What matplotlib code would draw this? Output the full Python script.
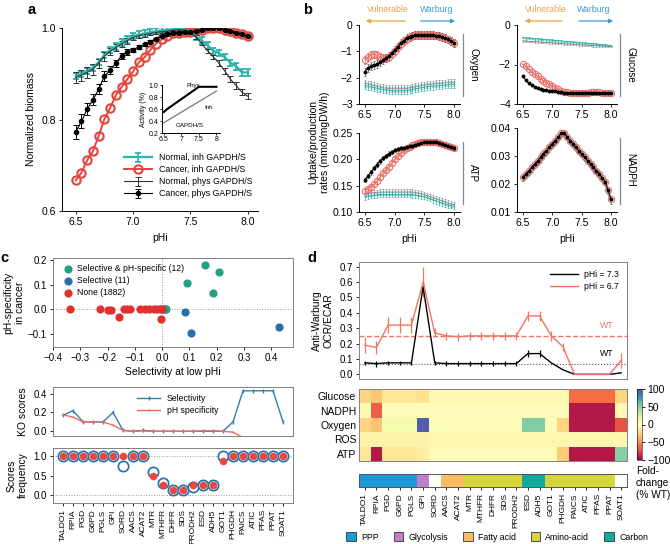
import numpy as np
import matplotlib
matplotlib.use("Agg")
import matplotlib.pyplot as plt
from matplotlib.patches import Patch, FancyArrowPatch
from matplotlib.lines import Line2D
from matplotlib.colors import ListedColormap

plt.rcParams['font.family'] = ['Liberation Sans', 'DejaVu Sans']
plt.rcParams['font.size'] = 7
plt.rcParams['xtick.labelsize'] = 7
plt.rcParams['ytick.labelsize'] = 7
plt.rcParams['axes.labelsize'] = 7.5
plt.rcParams['axes.linewidth'] = 0.7
plt.rcParams['xtick.major.width'] = 0.6
plt.rcParams['ytick.major.width'] = 0.6
plt.rcParams['xtick.major.size'] = 2.5
plt.rcParams['ytick.major.size'] = 2.5
plt.rcParams['xtick.major.pad'] = 2
plt.rcParams['ytick.major.pad'] = 2

######################## DATA ########################
pHi = np.linspace(6.5, 8.0, 31)

# panel a
normal_inh = [0.895, 0.900, 0.906, 0.913, 0.926, 0.941, 0.952, 0.960, 0.968, 0.975, 0.982, 0.986,
              0.988, 0.991, 0.993, 0.995, 0.996, 0.998, 0.999, 0.998, 0.994, 0.980, 0.973, 0.962,
              0.950, 0.945, 0.936, 0.924, 0.916, 0.903, 0.903]
cancer_inh = [0.667, 0.684, 0.711, 0.731, 0.764, 0.801, 0.825, 0.853, 0.871, 0.888, 0.905, 0.925,
              0.936, 0.952, 0.966, 0.975, 0.983, 0.988, 0.990, 0.991, 0.991, 0.993, 0.996, 0.999,
              1.000, 1.000, 0.996, 0.993, 0.990, 0.986, 0.982]
normal_phys = [0.892, 0.897, 0.903, 0.910, 0.923, 0.938, 0.949, 0.957, 0.965, 0.972, 0.979, 0.983,
               0.985, 0.988, 0.990, 0.992, 0.993, 0.995, 0.996, 0.995, 0.991, 0.980, 0.966, 0.950,
               0.937, 0.923, 0.906, 0.888, 0.874, 0.860, 0.851]
cancer_phys = [0.773, 0.796, 0.823, 0.843, 0.866, 0.895, 0.908, 0.923, 0.939, 0.948, 0.952, 0.959,
               0.964, 0.970, 0.977, 0.983, 0.986, 0.988, 0.990, 0.991, 0.991, 0.993, 0.996, 0.999,
               1.000, 1.000, 0.996, 0.993, 0.990, 0.986, 0.982]
normal_phys_err = [0.012, 0.012, 0.012, 0.012, 0.010, 0.010, 0.008, 0.008, 0.006, 0.006, 0.005, 0.004,
                   0.004, 0.003, 0.003, 0.002, 0.002, 0.002, 0.002, 0.002, 0.003, 0.004, 0.004, 0.005,
                   0.005, 0.006, 0.006, 0.006, 0.007, 0.007, 0.007]
cancer_phys_err = [0.016, 0.015, 0.013, 0.012, 0.011, 0.010, 0.009, 0.008, 0.007, 0.006, 0.005, 0.004,
                   0.003, 0.003, 0.002, 0.002, 0.002, 0.002, 0.001, 0.001, 0.001, 0.001, 0.001, 0.001,
                   0.001, 0.001, 0.001, 0.001, 0.001, 0.001, 0.001]
inset_phys_x = [6.5, 6.6, 7.5, 8.0]
inset_phys_y = [0.55, 0.60, 0.97, 0.97]
inset_inh_x = [6.5, 8.0]
inset_inh_y = [0.37, 0.90]

# panel b
oxy_cancer_phys = [-1.77, -1.64, -1.55, -1.51, -1.49, -1.39, -1.32, -1.26, -1.17, -1.07, -0.95, -0.82,
                   -0.69, -0.59, -0.50, -0.44, -0.40, -0.38, -0.37, -0.37, -0.37, -0.38, -0.38, -0.39,
                   -0.40, -0.42, -0.45, -0.50, -0.55, -0.62, -0.68]
oxy_cancer_inh = [-1.32, -1.22, -1.15, -1.12, -1.15, -1.22, -1.25, -1.25, -1.22, -1.12, -0.98, -0.85,
                  -0.72, -0.62, -0.53, -0.46, -0.41, -0.39, -0.38, -0.37, -0.37, -0.38, -0.38, -0.39,
                  -0.40, -0.42, -0.45, -0.50, -0.55, -0.62, -0.68]
oxy_normal_inh = [-2.30, -2.32, -2.35, -2.38, -2.40, -2.43, -2.45, -2.47, -2.48, -2.50, -2.50, -2.50,
                  -2.50, -2.50, -2.49, -2.47, -2.45, -2.42, -2.40, -2.38, -2.36, -2.34, -2.33, -2.32,
                  -2.31, -2.30, -2.29, -2.28, -2.27, -2.26, -2.25]
oxy_normal_phys = [-2.22, -2.24, -2.27, -2.30, -2.33, -2.36, -2.38, -2.40, -2.41, -2.42, -2.42, -2.42,
                   -2.42, -2.42, -2.41, -2.39, -2.37, -2.35, -2.32, -2.30, -2.28, -2.26, -2.25, -2.24,
                   -2.23, -2.22, -2.21, -2.20, -2.19, -2.18, -2.17]

glc_normal_inh = [-0.64, -0.66, -0.67, -0.68, -0.70, -0.71, -0.72, -0.74, -0.75, -0.76, -0.77, -0.79,
                  -0.80, -0.81, -0.83, -0.84, -0.85, -0.87, -0.88, -0.89, -0.91, -0.92, -0.93, -0.95,
                  -0.96, -0.97, -0.99, -1.00, -1.01, -1.03, -1.04]
glc_normal_phys = [-0.81, -0.82, -0.83, -0.84, -0.85, -0.86, -0.87, -0.88, -0.89, -0.90, -0.91, -0.92,
                   -0.93, -0.94, -0.95, -0.96, -0.97, -0.98, -0.99, -1.00, -1.01, -1.02, -1.03, -1.04,
                   -1.05, -1.05, -1.06, -1.07, -1.07, -1.08, -1.09]
glc_cancer_inh = [-1.97, -2.10, -2.25, -2.37, -2.50, -2.60, -2.72, -2.82, -2.92, -3.00, -3.08, -3.17,
                  -3.25, -3.32, -3.37, -3.40, -3.42, -3.42, -3.42, -3.42, -3.42, -3.42, -3.42, -3.41,
                  -3.40, -3.38, -3.40, -3.42, -3.42, -3.42, -3.42]
glc_cancer_phys = [-2.60, -2.80, -2.95, -3.05, -3.12, -3.18, -3.23, -3.27, -3.30, -3.32, -3.34, -3.36,
                   -3.38, -3.40, -3.42, -3.42, -3.42, -3.42, -3.42, -3.42, -3.42, -3.42, -3.42, -3.42,
                   -3.42, -3.42, -3.42, -3.42, -3.42, -3.42, -3.42]

atp_cancer_phys = [0.161, 0.169, 0.175, 0.183, 0.190, 0.196, 0.202, 0.207, 0.211, 0.214, 0.217, 0.219,
                   0.221, 0.222, 0.223, 0.225, 0.226, 0.228, 0.230, 0.231, 0.232, 0.232, 0.232, 0.232,
                   0.232, 0.231, 0.229, 0.227, 0.225, 0.223, 0.221]
atp_cancer_inh = [0.140, 0.144, 0.148, 0.153, 0.158, 0.166, 0.174, 0.180, 0.186, 0.193, 0.200, 0.206,
                  0.212, 0.217, 0.221, 0.224, 0.227, 0.229, 0.231, 0.232, 0.232, 0.233, 0.233, 0.233,
                  0.232, 0.231, 0.229, 0.227, 0.225, 0.223, 0.221]
atp_normal_inh = [0.128, 0.130, 0.131, 0.132, 0.132, 0.133, 0.133, 0.133, 0.133, 0.133, 0.133, 0.133,
                  0.133, 0.133, 0.133, 0.133, 0.132, 0.132, 0.131, 0.130, 0.129, 0.127, 0.125, 0.123,
                  0.121, 0.119, 0.117, 0.115, 0.113, 0.112, 0.111]
atp_normal_phys = [0.133, 0.135, 0.136, 0.137, 0.137, 0.138, 0.138, 0.138, 0.138, 0.138, 0.138, 0.138,
                   0.138, 0.138, 0.138, 0.138, 0.138, 0.137, 0.136, 0.135, 0.133, 0.131, 0.129, 0.127,
                   0.125, 0.123, 0.121, 0.119, 0.117, 0.115, 0.114]

nadph_cancer = [0.0224, 0.0235, 0.0247, 0.0259, 0.0271, 0.0283, 0.0295, 0.0307, 0.0319, 0.0331, 0.0343,
                0.0355, 0.0367, 0.0382, 0.0382, 0.0368, 0.0355, 0.0343, 0.0331, 0.0319, 0.0307, 0.0295,
                0.0283, 0.0271, 0.0259, 0.0247, 0.0235, 0.0222, 0.0208, 0.0178, 0.0145]
nadph_normal = [0.0209, 0.0220, 0.0232, 0.0244, 0.0256, 0.0268, 0.0280, 0.0292, 0.0304, 0.0316, 0.0328,
                0.0340, 0.0352, 0.0367, 0.0370, 0.0356, 0.0343, 0.0331, 0.0319, 0.0307, 0.0295, 0.0283,
                0.0271, 0.0259, 0.0247, 0.0235, 0.0223, 0.0210, 0.0195, 0.0165, 0.0130]

# panel c scatter
both_x = [0.159, 0.21, 0.092, 0.186, 0.005, 0.014, 0.010, 0.008]
both_y = [0.180, 0.153, 0.108, 0.065, 0.001, 0.000, 0.002, 0.000]
sel_x = [0.085, 0.106, 0.43]
sel_y = [-0.011, -0.094, -0.071]
none_x = [-0.338, -0.227, -0.200, -0.188, -0.157, -0.141, -0.129, -0.117, -0.080, -0.064,
          -0.047, -0.031, -0.019, -0.007, -0.003, -0.002]
none_y = [0.0, 0.0, -0.003, -0.001, -0.030, 0.0, 0.0, 0.0, 0.0, 0.0,
          0.0, 0.0, 0.0, 0.0, -0.038, 0.0]

genes = ['TALDO1', 'RPIA', 'PGD', 'G6PD', 'PGLS', 'GPI', 'SORD', 'AACS', 'ACAT2', 'MTR', 'MTHFR',
         'DHFR', 'SDS', 'PRODH2', 'ESD', 'ADH5', 'GOT1', 'PHGDH', 'PAICS', 'ATIC', 'PFAS', 'PPAT', 'SOAT1']
ko_selectivity = [0.17, 0.22, 0.10, 0.10, 0.10, 0.20, 0.01, 0.0, 0.01, 0.0, 0.0, 0.0, 0.0, 0.0,
                  0.0, 0.0, 0.0, 0.10, 0.43, 0.43, 0.43, 0.43, 0.10]
ko_ph_spec = [0.175, 0.15, 0.10, 0.10, 0.10, 0.065, 0.01, 0.0, 0.005, 0.0, 0.0, 0.0, 0.0, 0.0,
              0.005, 0.005, 0.0, -0.01, -0.065, -0.065, -0.065, -0.065, -0.09]
freq_selectivity = [1, 1, 1, 1, 1, 1, 0.75, 1, 1, 0.58, 0.30, 0.12, 0.12, 0.20, 0.25, 0.25,
                    1, 1, 1, 1, 1, 1, 1]
freq_ph_spec = [1, 1, 1, 1, 1, 1, 1.0, 1, 1, 0.50, 0.25, 0.12, 0.12, 0.25, 0.25, 0.25,
                0.88, 1, 1, 1, 1, 1, 1]

# panel d
ratio_73 = [0.075, 0.07, 0.075, 0.075, 0.075, 0.57, 0.075, 0.07, 0.07, 0.07, 0.07, 0.07, 0.07, 0.07,
            0.135, 0.135, 0.075, 0.03, 0.0, 0.0, 0.0, 0.0, 0.01]
ratio_73_err = [0.015, 0.02, 0.015, 0.015, 0.015, 0.03, 0.015, 0.015, 0.015, 0.015, 0.015, 0.015,
                0.015, 0.015, 0.025, 0.025, 0.0, 0.0, 0.0, 0.0, 0.0, 0.0, 0.0]
ratio_67 = [0.19, 0.175, 0.32, 0.32, 0.32, 0.60, 0.27, 0.25, 0.245, 0.25, 0.25, 0.25, 0.25, 0.25,
            0.38, 0.38, 0.25, 0.18, 0.0, 0.0, 0.0, 0.0, 0.09]
ratio_67_err = [0.05, 0.045, 0.05, 0.05, 0.05, 0.1, 0.03, 0.025, 0.025, 0.025, 0.025, 0.025, 0.025,
                0.025, 0.03, 0.03, 0.03, 0.025, 0.0, 0.0, 0.0, 0.0, 0.05]
wt_73 = 0.07
wt_67 = 0.25

heat_rows = ['Glucose', 'NADPH', 'Oxygen', 'ROS', 'ATP']
heat_glucose = [-25, -30, -15, -15, -15, -18, -4, -4, -4, -4, -4, -4, -4, -4, -4, -4, -4, -4,
                -60, -60, -60, -60, -25]
heat_nadph = [-4, -65, -3, -3, -3, -3, -3, -3, -3, -3, -3, -3, -3, -3, -3, -3, -3, -3,
              -92, -92, -92, -92, -4]
heat_oxygen = [-25, -32, 8, 8, 8, 95, 3, -3, -3, -3, -3, -3, -3, -3, 52, 52, -3, -25,
               -92, -92, -92, -92, -70]
heat_ros = [-8, -8, -8, -8, -8, -8, -6, -6, -6, -6, -6, -6, -6, -6, -6, -6, -6, -6,
            -6, -6, -6, -6, -6]
heat_atp = [-15, -92, -15, -15, -15, -12, -3, -3, -3, -3, -3, -3, -3, -3, -3, -3, -3, -28,
            -92, -92, -92, -92, 50]

gene_category = ['PPP', 'PPP', 'PPP', 'PPP', 'PPP', 'Glycolysis', '', 'Fatty acid', 'Fatty acid',
                 'Amino-acid', 'Amino-acid', 'Amino-acid', 'Amino-acid', 'Amino-acid', 'Carbon', 'Carbon',
                 'Amino-acid', 'Amino-acid', 'Amino-acid', 'Amino-acid', 'Amino-acid', 'Amino-acid', '']
category_names = ['PPP', 'Glycolysis', 'Fatty acid', 'Amino-acid', 'Carbon']
category_colors = ['#1c9ad6', '#c27ec6', '#f8bb62', '#d5d43c', '#12a89e']

######################## FIGURE ########################
teal = '#2bb3ac'
red = '#e5443d'
W, H = 670, 544
fig = plt.figure(figsize=(6.7, 5.44), dpi=100)


def box(x0, y0, x1, y1):
    return fig.add_axes([x0 / W, 1 - y1 / H, (x1 - x0) / W, (y1 - y0) / H])


def open_axes(ax):
    ax.spines['top'].set_visible(False)
    ax.spines['right'].set_visible(False)


def grey_box(ax):
    for s in ax.spines.values():
        s.set_color('#808080')


# ---------- a ----------
ax = box(62, 28, 258, 211)
open_axes(ax)
h1 = ax.errorbar(pHi, normal_inh, yerr=0.007, color=teal, lw=1.6, elinewidth=1.3, capsize=2.5,
                 capthick=1.3)
h2, = ax.plot(pHi, cancer_inh, 'o-', color=red, mfc='none', ms=6, mew=1.5, lw=1.4)
h3 = ax.errorbar(pHi, normal_phys, yerr=normal_phys_err, color='#333333', lw=0.8, elinewidth=0.7,
                 capsize=2, capthick=0.7)
h4 = ax.errorbar(pHi, cancer_phys, yerr=cancer_phys_err, fmt='o-', ms=3, color='black', lw=0.8,
                 elinewidth=0.7, capsize=2, capthick=0.7)
ax.set_xlim(6.38, 8.09)
ax.set_ylim(0.6, 1.0)
ax.set_xticks([6.5, 7.0, 7.5, 8.0])
ax.set_xticklabels(['6.5', '7.0', '7.5', '8.0'])
ax.set_yticks([0.6, 0.8, 1.0])
ax.tick_params(labelsize=7.5)
ax.set_xlabel('pHi')
ax.set_ylabel('Normalized biomass')
ax.legend([h1, h2, h3, h4], ['Normal, inh GAPDH/S', 'Cancer, inh GAPDH/S',
                             'Normal, phys GAPDH/S', 'Cancer, phys GAPDH/S'],
          loc='lower right', bbox_to_anchor=(1.0, 0.04), frameon=False, fontsize=6.3,
          handlelength=3.2, labelspacing=0.35, borderaxespad=0.2)

ins = box(162, 85, 220, 133)
open_axes(ins)
ins.plot(inset_phys_x, inset_phys_y, color='black', lw=1.5)
ins.plot(inset_inh_x, inset_inh_y, color='#777777', lw=0.9)
ins.set_xlim(6.45, 8.1)
ins.set_ylim(0.2, 1.0)
ins.set_xticks([6.5, 7, 7.5, 8])
ins.set_xticklabels(['6.5', '7', '7.5', '8'])
ins.set_yticks([0.2, 0.4, 0.6, 0.8, 1.0])
ins.tick_params(labelsize=5, length=1.5, pad=1)
ins.set_ylabel('Activity (%)', fontsize=5, labelpad=1)
ins.text(7.15, 0.97, 'Phys', fontsize=4.5)
ins.text(7.65, 0.6, 'Inh', fontsize=4.5)
ins.text(7.25, 0.3, 'GAPDH/S', fontsize=4.5, ha='center')

# ---------- b ----------
def bpanel(ax, c_inh, c_phys, n_inh, n_phys, err_c, err_n, name):
    open_axes(ax)
    if n_phys is not None:
        ax.errorbar(pHi, n_phys, yerr=err_n, color='#888888', lw=0.6, elinewidth=0.5,
                    capsize=1, capthick=0.5)
    ax.errorbar(pHi, n_inh, yerr=err_n, color=teal, lw=0.8, elinewidth=0.5, capsize=1, capthick=0.5)
    ax.errorbar(pHi, c_inh, yerr=err_c, fmt='o-', ms=4.5, mfc='none', mec='#e8706a', mew=0.8,
                color='#e8706a', lw=0.8, elinewidth=0.5, capsize=1, capthick=0.5)
    ax.errorbar(pHi, c_phys, yerr=err_c, fmt='o-', ms=1.8, color='black', lw=0.7,
                elinewidth=0.5, ecolor='#555555', capsize=1, capthick=0.5)
    ax.set_xlim(6.4, 8.1)
    ax.set_xticks([6.5, 7.0, 7.5, 8.0])
    ax.set_xticklabels(['6.5', '7.0', '7.5', '8.0'])
    ax.tick_params(labelsize=7.5)
    ax.plot([1.03, 1.03], [0.1, 0.88], transform=ax.transAxes, color='#888888', lw=0.9, clip_on=False)
    ax.text(1.13, 0.5, name, transform=ax.transAxes, rotation=-90, va='center', ha='center', fontsize=7)


ax = box(359, 25, 460, 104)
bpanel(ax, oxy_cancer_inh, oxy_cancer_phys, oxy_normal_inh, oxy_normal_phys, 0.15, 0.13, 'Oxygen')
ax.set_ylim(-3, 0)
ax.set_yticks([-3, -2, -1, 0])

ax = box(517, 25, 617, 104)
bpanel(ax, glc_cancer_inh, glc_cancer_phys, glc_normal_inh, glc_normal_phys, 0.0, 0.04, 'Glucose')
ax.set_ylim(-4, 0)
ax.set_yticks([-4, -2, 0])

ax = box(359, 133, 460, 212)
bpanel(ax, atp_cancer_inh, atp_cancer_phys, atp_normal_inh, atp_normal_phys, 0.004, 0.005, 'ATP')
ax.set_ylim(0.10, 0.25)
ax.set_yticks([0.10, 0.15, 0.20, 0.25])
ax.set_yticklabels(['0.10', '0.15', '0.20', '0.25'])
ax.set_xlabel('pHi')

ax = box(517, 128, 617, 212)
bpanel(ax, nadph_cancer, nadph_cancer, nadph_normal, None, 0.0, 0.0, 'NADPH')
ax.set_ylim(0.01, 0.04)
ax.set_yticks([0.01, 0.02, 0.03, 0.04])
ax.set_xlabel('pHi')

fig.text(319 / W, 1 - 142 / H, 'Uptake/production\nrates (mmol/mgDW/h)', rotation=90,
         ha='center', va='center', fontsize=7.5)

orange = '#f0a040'
blue = '#3a9bd0'
for xc_v, xa0, xa1, xc_w, xb0, xb1 in [(388, 408, 363, 437, 418, 458), (546, 565, 522, 594, 576, 616)]:
    fig.text(xc_v / W, 1 - 10 / H, 'Vulnerable', color=orange, ha='center', va='center', fontsize=6.3)
    fig.text(xc_w / W, 1 - 10 / H, 'Warburg', color=blue, ha='center', va='center', fontsize=6.3)
    fig.add_artist(FancyArrowPatch((xa0 / W, 1 - 21 / H), (xa1 / W, 1 - 21 / H), transform=fig.transFigure,
                                   arrowstyle='-|>', mutation_scale=6, color=orange, lw=0.9))
    fig.add_artist(FancyArrowPatch((xb0 / W, 1 - 21 / H), (xb1 / W, 1 - 21 / H), transform=fig.transFigure,
                                   arrowstyle='-|>', mutation_scale=6, color=blue, lw=0.9))

# ---------- c ----------
idx = np.arange(len(genes))

ax = box(53, 258, 293, 347)
grey_box(ax)
ax.axhline(0, color='#999999', ls=':', lw=0.7, zorder=0)
ax.axvline(0, color='#999999', ls=':', lw=0.7, zorder=0)
ax.scatter(both_x, both_y, s=24, color='#22a282', label='Selective & pH-specific (12)', zorder=3)
ax.scatter(sel_x, sel_y, s=24, color='#2770b0', label='Selective (11)', zorder=3)
ax.scatter(none_x, none_y, s=24, color='#e3302f', label='None (1882)', zorder=3)
ax.set_xlim(-0.4, 0.48)
ax.set_ylim(-0.152, 0.208)
ax.set_xticks([-0.4, -0.3, -0.2, -0.1, 0.0, 0.1, 0.2, 0.3, 0.4])
ax.set_yticks([-0.1, 0.0, 0.1, 0.2])
ax.set_xlabel('Selectivity at low pHi', labelpad=3)
ax.set_ylabel('pH-specificity\nin cancer', labelpad=2)
ax.legend(loc='upper left', frameon=False, fontsize=6.2, handletextpad=0.1, labelspacing=0.35,
          borderaxespad=0.3, scatterpoints=1)

ax = box(53, 387, 293, 436)
grey_box(ax)
ax.plot(idx, ko_selectivity, color='#2f7fb0', lw=1, marker='|', ms=3, label='Selectivity')
ax.plot(idx, ko_ph_spec, color='#f06a60', lw=1, marker='|', ms=2, label='pH specificity')
ax.set_xlim(-1, 23)
ax.set_ylim(-0.05, 0.47)
ax.set_xticks([])
ax.set_yticks([0.0, 0.2, 0.4])
ax.set_ylabel('KO scores')
ax.legend(loc='upper center', bbox_to_anchor=(0.52, 1.02), frameon=False, fontsize=6.2,
          labelspacing=0.35, handlelength=2.6)

ax = box(53, 448, 293, 503)
grey_box(ax)
ax.axhline(1.0, color='#999999', ls=':', lw=0.7, zorder=0)
ax.axhline(0.0, color='#999999', ls=':', lw=0.7, zorder=0)
ax.scatter(idx, freq_selectivity, s=55, facecolor='white', edgecolor='#1f6fa8', lw=1.2, zorder=2)
ax.scatter(idx, freq_ph_spec, s=20, color='#e8483f', zorder=3)
ax.set_xlim(-1, 23)
ax.set_ylim(-0.2, 1.2)
ax.set_yticks([0.0, 0.5, 1.0])
ax.set_xticks(idx)
ax.set_xticklabels(genes, rotation=90, fontsize=6)
ax.set_ylabel('Scores\nfrequency')

# ---------- d ----------
salmon = '#f07462'
ax = box(359, 262, 627, 379)
grey_box(ax)
ax.axhline(wt_67, color=salmon, ls='--', lw=1)
ax.axhline(wt_73, color='#555555', ls=':', lw=0.8)
ax.errorbar(idx, ratio_73, yerr=ratio_73_err, color='black', lw=1, elinewidth=0.9, capsize=0)
ax.errorbar(idx, ratio_67, yerr=ratio_67_err, color=salmon, lw=1, elinewidth=0.9, capsize=0)
ax.text(20.8, 0.315, 'WT', color=salmon, ha='center', va='center', fontsize=6.3)
ax.text(20.8, 0.135, 'WT', color='black', ha='center', va='center', fontsize=6.3)
ax.set_xlim(-0.5, 22.5)
ax.set_ylim(-0.03, 0.73)
ax.set_xticks([])
ax.set_yticks([0.0, 0.1, 0.2, 0.3, 0.4, 0.5, 0.6, 0.7])
ax.set_ylabel('Anti-Warburg\nOCR/ECAR')
ax.legend(handles=[Line2D([], [], color='black', lw=1), Line2D([], [], color=salmon, lw=1)],
          labels=['pHi = 7.3', 'pHi = 6.7'], loc='upper right', frameon=False, fontsize=6.2,
          labelspacing=0.35, handlelength=3.2)

ax = box(359, 389, 627, 461)
grey_box(ax)
heat = np.array([heat_glucose, heat_nadph, heat_oxygen, heat_ros, heat_atp])
im = ax.imshow(heat, cmap='Spectral', vmin=-100, vmax=100, aspect='auto', interpolation='nearest')
ax.set_xticks([])
ax.set_yticks(range(len(heat_rows)))
ax.set_yticklabels(heat_rows, fontsize=7.5)
ax.tick_params(axis='y', length=0)

cax = box(637, 389, 642, 460)
cb = fig.colorbar(im, cax=cax, ticks=[100, 50, 0, -50, -100])
cb.outline.set_linewidth(0.4)
cax.tick_params(labelsize=7.5, length=2)
fig.text(636 / W, 1 - 466 / H, 'Fold-\nchange\n(% WT)', ha='left', va='top', fontsize=7.3,
         linespacing=1.25)

ax = box(359, 474, 627, 487)
cat_color = {n: c for n, c in zip(category_names, category_colors)}
cat_color[''] = '#ffffff'
strip = ListedColormap([cat_color[c] for c in gene_category])
ax.imshow(np.arange(len(genes))[None, :], cmap=strip, aspect='auto', interpolation='nearest')
ax.set_yticks([])
ax.set_xticks(idx)
ax.set_xticklabels(genes, rotation=90, fontsize=6)
for s in ax.spines.values():
    s.set_color('#555555')

fig.legend(handles=[Patch(facecolor=c, edgecolor='#333333', lw=0.6) for c in category_colors],
           labels=category_names, loc='center', bbox_to_anchor=(497 / W, 1 - 537 / H), ncol=5,
           frameon=False, fontsize=6.3, handlelength=1.1, handleheight=1.1, columnspacing=1.7,
           handletextpad=0.6)

# panel letters
for letter, x, y in [('a', 32, 10), ('b', 308, 10), ('c', 4, 258), ('d', 312, 258)]:
    fig.text(x / W, 1 - y / H, letter, fontsize=10.5, fontweight='bold', ha='center', va='center')

fig.savefig('out.png', dpi=100)
